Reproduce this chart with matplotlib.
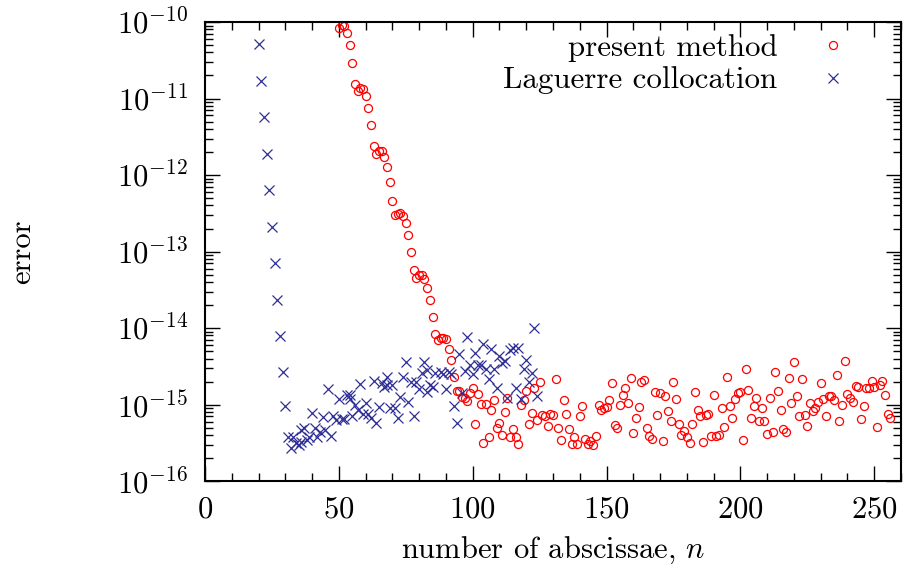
import numpy as np
import matplotlib
matplotlib.use("Agg")
from matplotlib import pyplot as plt
from matplotlib.ticker import LogLocator, MultipleLocator, NullFormatter

plt.rcParams['font.family'] = 'cmr10'
plt.rcParams['mathtext.fontset'] = 'cm'
plt.rcParams['axes.formatter.use_mathtext'] = True

# present method: error exponents (log10), n = 50 .. 256
present_exp = [
    -10.08, -10.04, -10.05, -10.15, -10.30, -10.54, -10.81, -10.90, -10.86, -10.87,
    -10.97, -11.12, -11.35, -11.62, -11.72, -11.69, -11.69, -11.76, -11.89, -12.09,
    -12.34, -12.52, -12.51, -12.49, -12.53, -12.63, -12.78, -13.00, -13.24, -13.35,
    -13.31, -13.31, -13.36, -13.47, -13.63, -13.85, -14.08, -14.16, -14.13, -14.13,
    -14.14, -14.27, -14.42, -14.64, -14.82, -14.82, -14.90, -14.92, -14.95, -14.85,
    -14.78, -15.26, -14.86, -14.99, -15.50, -14.99, -15.43, -15.07, -14.94, -15.30,
    -15.24, -15.40, -15.10, -14.91, -15.43, -15.32, -15.42, -15.52, -15.00, -14.94,
    -14.82, -15.25, -15.11, -14.78, -15.20, -14.70, -15.14,
    # n = 127 .. 180
    -15.15, -15.28, -15.12, -15.14, -14.66, -15.31, -15.46, -14.94, -15.12, -15.32,
    -15.52, -15.43, -15.51, -15.15, -15.02, -15.45, -15.51, -15.48, -15.53, -15.41,
    -15.01, -15.07, -15.05, -15.03, -14.94, -14.72, -15.27, -15.30, -15.01, -14.87,
    -14.78, -14.98, -14.65, -15.37, -15.18, -15.03, -14.70, -14.68, -15.31, -15.41,
    -15.45, -14.83, -15.14, -14.85, -15.47, -14.89, -15.09, -15.21, -14.70, -14.93,
    -15.26, -15.40, -15.35, -15.42,
    # n = 181 .. 256
    -15.50, -15.25, -14.84, -15.07, -15.15, -15.49, -15.14, -15.12, -15.41, -14.88,
    -15.41, -15.40, -15.05, -15.29, -14.64, -15.02, -15.17, -14.93, -14.85, -14.83,
    -15.46, -14.54, -14.81, -15.18, -15.02, -14.91, -15.21, -15.05, -15.22, -15.38,
    -14.92, -15.36, -14.58, -14.82, -15.07, -15.32, -15.36, -14.65, -14.98, -14.44,
    -14.89, -15.15, -14.67, -15.13, -15.28, -14.98, -15.08, -15.05, -14.97, -14.72,
    -14.93, -15.15, -14.89, -14.89, -14.94, -14.61, -15.22, -15.01, -14.43, -14.86,
    -14.92, -14.97, -14.76, -14.77, -15.19, -15.02, -14.78, -14.78, -14.69, -14.77,
    -15.29, -14.74, -14.69, -14.88, -15.12, -15.18,
]
present_n = np.arange(50, 257)

# Laguerre collocation
laguerre_n = [
    20, 21, 22, 23, 24, 25, 26, 27, 28, 29, 30,
    31, 32, 33, 34, 35, 36, 36, 37, 38, 39, 40, 41, 42, 43, 44, 45, 46, 47, 48, 49,
    50, 51, 52, 53, 54, 54, 55, 56, 57, 58, 59, 60, 61, 62, 63, 64, 65, 66, 67, 68,
    68, 69, 70, 71, 72, 73, 74, 75, 76, 77, 78, 79, 80, 81, 82, 83, 83, 84, 85, 86,
    88, 89, 90, 91, 92, 93, 94, 95, 96, 97, 98, 99, 100, 101, 102, 103, 104, 105,
    106, 107, 108, 109, 110, 111, 112, 113, 114, 115, 116, 117, 118, 119, 120, 121,
    122, 123, 124,
]
laguerre_exp = [
    -10.29, -10.77, -11.24, -11.72, -12.20, -12.68, -13.15, -13.63, -14.11, -14.58, -15.02,
    -15.43, -15.57, -15.42, -15.50, -15.53, -15.49, -15.33, -15.31, -15.46, -15.42,
    -15.11, -15.31, -15.42, -15.36, -15.16, -15.33, -14.80, -15.41, -15.15, -15.20,
    -14.93, -15.19, -15.19, -14.88, -14.88, -14.93, -15.15, -15.00, -15.07, -14.73,
    -15.12, -14.98, -15.12, -15.18, -14.69, -15.24, -15.03, -14.72, -14.77, -14.75,
    -14.64, -15.05, -14.75, -15.05, -15.18, -14.90, -14.64, -14.45, -14.96, -14.71,
    -15.15, -14.70, -14.80, -14.59, -14.45, -14.55, -14.83, -14.75, -14.77, -14.59,
    -14.57, -14.60, -14.80, -14.58, -14.60, -15.02, -15.24, -14.34, -14.85, -14.56,
    -14.12, -14.48, -14.60, -14.32, -14.48, -14.48, -14.21, -14.54, -14.67, -14.27,
    -14.53, -14.78, -14.37, -14.46, -14.43, -14.91, -14.29, -14.26, -14.78, -14.26,
    -14.93, -14.53, -14.42, -14.70, -14.59, -14.00, -14.89,
]
assert len(present_exp) == len(present_n)
assert len(laguerre_exp) == len(laguerre_n)

fig = plt.figure(figsize=(9.07, 5.70), dpi=100)
ax = fig.add_axes([0.226, 0.156, 0.7674, 0.8054])

ax.plot(present_n, 10.0 ** np.array(present_exp), 'o', ls='none',
        mfc='none', mec='#ff0000', ms=5.8, mew=0.9, label='present method')
ax.plot(laguerre_n, 10.0 ** np.array(laguerre_exp), 'x', ls='none',
        color='#2e2e96', ms=6.8, mew=0.9, label='Laguerre collocation')

ax.set_yscale('log')
ax.set_xlim(0, 260)
ax.set_ylim(1e-16, 1e-10)
ax.xaxis.set_major_locator(MultipleLocator(50))
ax.xaxis.set_minor_locator(MultipleLocator(10))
ax.yaxis.set_major_locator(LogLocator(base=10, numticks=20))
ax.yaxis.set_minor_locator(LogLocator(base=10, subs=np.arange(2, 10), numticks=20))
ax.yaxis.set_minor_formatter(NullFormatter())

ax.tick_params(which='both', direction='in', top=True, right=True,
               labelsize=22, width=1.0, color='black')
ax.tick_params(which='major', length=10.5)
ax.tick_params(which='minor', length=5.5)
ax.tick_params(axis='x', which='major', pad=11)
ax.tick_params(axis='y', which='major', pad=12)
for s in ax.spines.values():
    s.set_linewidth(1.5)

ax.set_xlabel('number of abscissae, $n$', fontsize=22, labelpad=8)
ax.set_ylabel('error', fontsize=22, labelpad=58)

ax.legend(loc='upper right', bbox_to_anchor=(0.947, 0.974), frameon=False,
          markerfirst=False, numpoints=1, fontsize=22.3, borderpad=0,
          borderaxespad=0, labelspacing=0.15, handletextpad=0.8, handlelength=2.0)

fig.savefig('out.png', dpi=100)
